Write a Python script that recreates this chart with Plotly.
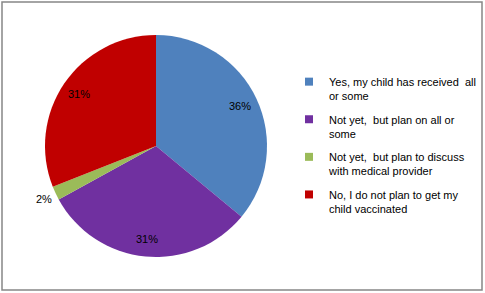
import math
import plotly.graph_objects as go

categories = [
    "Yes, my child has received  all<br>or some",
    "Not yet,  but plan on all or<br>some",
    "Not yet,  but plan to discuss<br>with medical provider",
    "No, I do not plan to get my<br>child vaccinated",
]
values = [36, 31, 2, 31]
label_texts = ["36%", "31%", "2%", "31%"]
colors = ["#4F81BD", "#7030A0", "#9BBB59", "#C00000"]
label_outside = [False, False, True, False]

W, H = 485, 293
cx, cy, r = 156, 146, 111

fig = go.Figure()
fig.add_trace(go.Pie(
    labels=categories,
    values=values,
    sort=False,
    direction="clockwise",
    rotation=0,
    marker=dict(colors=colors, line=dict(width=0)),
    textinfo="none",
    hoverinfo="label+percent",
    domain=dict(x=[(cx - r) / W, (cx + r) / W], y=[1 - (cy + r) / H, 1 - (cy - r) / H]),
    showlegend=False,
))

# legend proxies (one per category)
for i, (cat, col) in enumerate(zip(categories, colors)):
    fig.add_trace(go.Scatter(
        x=[None], y=[None], mode="markers", name=cat,
        marker=dict(symbol="square", size=8, color=col),
        legendgroup=f"g{i}", showlegend=True, hoverinfo="skip",
    ))

# data labels placed from the slice angles
total = sum(values)
annotations = []
cum = 0
for v, t, out in zip(values, label_texts, label_outside):
    mid = (cum + v / 2) / total * 2 * math.pi
    cum += v
    rr = r * (1.12 if out else 0.84)
    px = cx + rr * math.sin(mid)
    py = cy - rr * math.cos(mid)
    annotations.append(dict(
        x=px / W, y=1 - py / H, xref="paper", yref="paper", text=t,
        showarrow=False, xanchor="center", yanchor="middle",
        font=dict(family="Liberation Sans", size=11, color="black"),
    ))

fig.update_layout(
    width=W, height=H,
    margin=dict(l=0, r=0, t=0, b=0),
    paper_bgcolor="white",
    plot_bgcolor="white",
    xaxis=dict(visible=False),
    yaxis=dict(visible=False),
    font=dict(family="Liberation Sans", size=11, color="black"),
    legend=dict(x=289 / W, y=1 - 68 / H, xanchor="left", yanchor="top",
                font=dict(size=11, color="black"), itemwidth=30,
                tracegroupgap=6, valign="top", traceorder="grouped",
                bgcolor="rgba(0,0,0,0)"),
    annotations=annotations,
    shapes=[dict(type="rect", xref="paper", yref="paper",
                 x0=2 / W, x1=482 / W, y0=1 - 290 / H, y1=1 - 2 / H,
                 line=dict(color="#868686", width=1.5))],
)

fig.write_html("out.html")
